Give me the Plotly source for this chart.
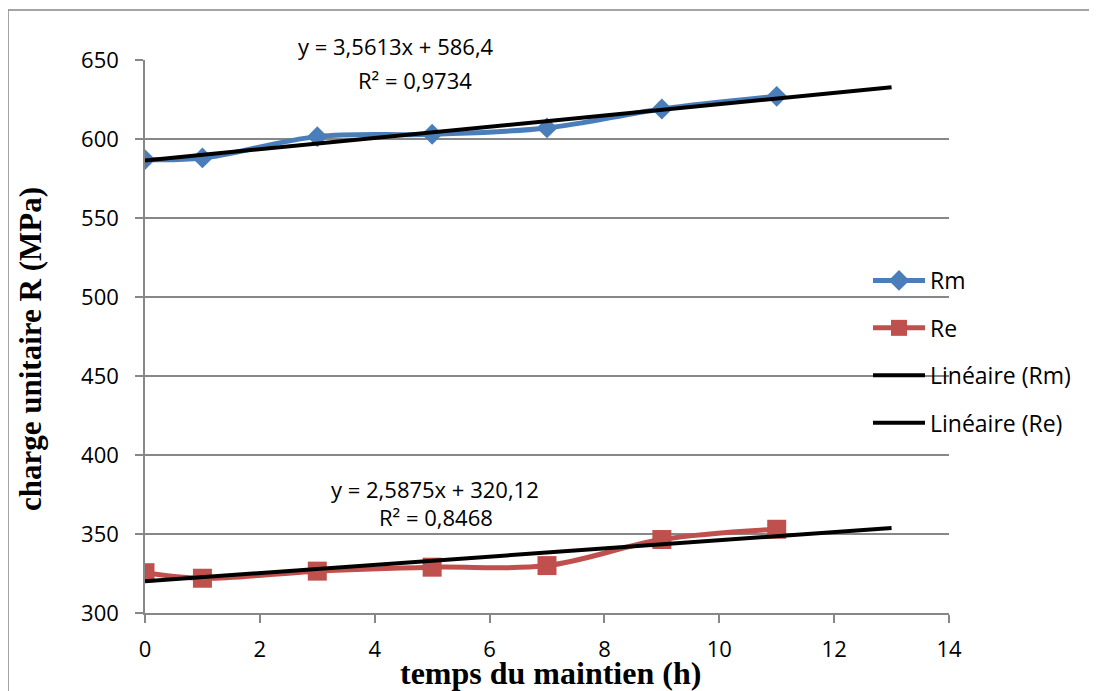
import plotly.graph_objects as go

# temps du maintien (h)
hours = [0, 1, 3, 5, 7, 9, 11]
rm_values = [587, 588, 601.5, 603, 607, 619, 627]
re_values = [325.5, 322, 326.5, 329, 330, 346.5, 353]

# linear trend endpoints (from the Excel equations)
trend_x = [0, 13]
trend_rm = [586.4, 632.7]
trend_re = [320.1, 353.8]

x_ticks = [0, 2, 4, 6, 8, 10, 12, 14]
y_ticks = [300, 350, 400, 450, 500, 550, 600, 650]

# page body adds 8px, so the figure is laid out 8px up/left of the screen spots
OFF = 8
W, H = 1097, 691
L, R, T, B = 145 - OFF, 148 + OFF, 60 - OFF, 78 + OFF
pw, ph = W - L - R, H - T - B


def px_x(p):
    return (p - OFF - L) / pw


def px_y(p):
    return (H - B - (p - OFF)) / ph


FONT = "Open Sans"
GRID = "#878787"

fig = go.Figure()
fig.add_trace(go.Scatter(
    x=hours, y=rm_values, name="Rm", mode="lines+markers",
    line=dict(color="#4A7EBB", width=5, shape="spline"),
    marker=dict(symbol="diamond", size=16, color="#4A7EBB"),
    legendgroup="a"
))
fig.add_trace(go.Scatter(
    x=hours, y=re_values, name="Re", mode="lines+markers",
    line=dict(color="#C0504D", width=5, shape="spline"),
    marker=dict(symbol="square", size=19, color="#C0504D"),
    legendgroup="b"
))
fig.add_trace(go.Scatter(
    x=trend_x, y=trend_rm, name="Linéaire (Rm)", mode="lines",
    line=dict(color="black", width=4), legendgroup="c"
))
fig.add_trace(go.Scatter(
    x=trend_x, y=trend_re, name="Linéaire (Re)", mode="lines",
    line=dict(color="black", width=4), legendgroup="d"
))

fig.update_layout(
    width=W, height=H,
    margin=dict(l=L, r=R, t=T, b=B),
    paper_bgcolor="white", plot_bgcolor="white",
    font=dict(family=FONT, size=22, color="black"),
    legend=dict(
        x=px_x(868), xanchor="left", y=px_y(259), yanchor="top",
        bgcolor="rgba(0,0,0,0)", font=dict(size=23),
        tracegroupgap=14.5, traceorder="grouped", itemwidth=52
    ),
    xaxis=dict(
        range=[0, 14], tickvals=x_ticks, showgrid=False,
        showline=True, linecolor=GRID, linewidth=1.5,
        ticks="outside", ticklen=8, tickcolor=GRID, tickwidth=1.5,
        zeroline=False, ticklabelstandoff=8
    ),
    yaxis=dict(
        range=[300, 650], tickvals=y_ticks, showgrid=True,
        gridcolor=GRID, gridwidth=1.5,
        showline=True, linecolor=GRID, linewidth=1.5,
        ticks="outside", ticklen=8, tickcolor=GRID, tickwidth=1.5,
        zeroline=False, ticklabelstandoff=12
    ),
)

# equations of the trend lines
eq_text = ["y = 3,5613x + 586,4", "R² = 0,9734",
           "y = 2,5875x + 320,12", "R² = 0,8468"]
eq_pos = [(4.37, 46), (4.70, 80), (5.05, 489), (5.07, 517)]
for txt, (ex, ey) in zip(eq_text, eq_pos):
    fig.add_annotation(x=ex, y=px_y(ey), xref="x", yref="paper",
                       xanchor="center", yanchor="middle",
                       text=txt, showarrow=False)

# axis titles
fig.add_annotation(x=px_x(550), y=px_y(673), xref="paper", yref="paper",
                   xanchor="center", yanchor="middle",
                   text="<b>temps du maintien (h)</b>", showarrow=False,
                   font=dict(family="Liberation Serif", size=32))
fig.add_annotation(x=px_x(30), y=px_y(349), xref="paper", yref="paper",
                   xanchor="center", yanchor="middle",
                   text="<b>charge unitaire R (MPa)</b>", showarrow=False,
                   textangle=-90,
                   font=dict(family="Liberation Serif", size=31))

# outer chart frame
fig.add_shape(type="rect", xref="paper", yref="paper",
              x0=px_x(8), x1=px_x(1090), y0=px_y(720), y1=px_y(10),
              line=dict(color=GRID, width=1.5), layer="below")

fig.write_html("out.html")
